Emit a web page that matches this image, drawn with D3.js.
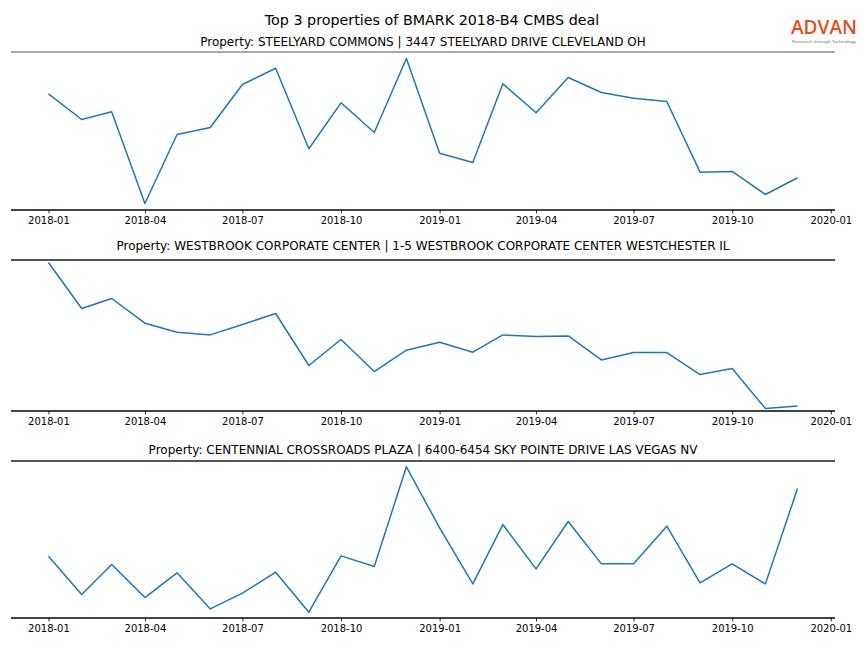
<!DOCTYPE html>
<html>
<head>
<meta charset="utf-8">
<script src="https://cdn.jsdelivr.net/npm/d3@7"></script>
<style>
  html, body { margin: 0; padding: 0; background: #fff; }
  svg { display: block; font-family: "DejaVu Sans", sans-serif; }
</style>
</head>
<body>
<svg id="chart" width="864" height="648"></svg>
<script>
// ---- data ----
const months = ["2018-01","2018-02","2018-03","2018-04","2018-05","2018-06","2018-07","2018-08","2018-09","2018-10","2018-11","2018-12",
                "2019-01","2019-02","2019-03","2019-04","2019-05","2019-06","2019-07","2019-08","2019-09","2019-10","2019-11","2019-12"];
const titles = [
  "Property: STEELYARD COMMONS | 3447 STEELYARD DRIVE CLEVELAND OH",
  "Property: WESTBROOK CORPORATE CENTER | 1-5 WESTBROOK CORPORATE CENTER WESTCHESTER IL",
  "Property: CENTENNIAL CROSSROADS PLAZA | 6400-6454 SKY POINTE DRIVE LAS VEGAS NV"
];
const steelyard = [1157, 900, 977, 60, 750, 820, 1250, 1413, 607, 1067, 770, 1510,
                   563, 470, 1257, 967, 1320, 1170, 1113, 1080, 373, 380, 150, 317];
const westbrook = [1487, 1027, 1127, 880, 790, 763, 867, 977, 457, 717, 397, 610,
                   690, 590, 763, 747, 753, 513, 587, 587, 367, 427, 27, 53];
const centennial = [617, 233, 533, 203, 450, 90, 247, 457, 57, 620, 513, 1510,
                    900, 340, 933, 490, 963, 540, 540, 917, 350, 540, 340, 1293];
const series = [steelyard, westbrook, centennial];
const mainTitle = "Top 3 properties of BMARK 2018-B4 CMBS deal";

// ---- layout ----
const svg = d3.select("#chart");
const left = 11, right = 835;
const panels = [
  {top: 52, bottom: 210, pad: 0.045, titleY: 46, topSpine: 1},
  {top: 260, bottom: 411, pad: 0.017, titleY: 250, topSpine: 2},
  {top: 461, bottom: 618, pad: 0.04, titleY: 454, topSpine: 2}
];
const parse = d3.timeParse("%Y-%m");
const dates = months.map(parse);
const dExt = d3.extent(dates);
const span = dExt[1] - dExt[0];
const x = d3.scaleTime()
  .domain([new Date(+dExt[0] - span * 0.05), new Date(+dExt[1] + span * 0.05)])
  .range([left, right]);

svg.append("text").attr("x", 432).attr("y", 25).attr("text-anchor", "middle")
  .attr("font-size", 14.3).attr("fill", "#000").text(mainTitle);

// logo
const logo = svg.append("g");
logo.append("text").attr("x", 791).attr("y", 34).attr("font-family", "Open Sans, Liberation Sans, sans-serif")
  .attr("font-size", 20).attr("font-weight", 600).attr("fill", "#e0511f").attr("textLength", 66).attr("lengthAdjust", "spacingAndGlyphs")
  .text("ADVAN");
logo.append("text").attr("x", 792).attr("y", 42.5).attr("font-family", "Liberation Sans, Arial, sans-serif")
  .attr("font-size", 3.6).attr("fill", "#777").attr("textLength", 64).attr("lengthAdjust", "spacingAndGlyphs")
  .text("Research through Technology");

panels.forEach((p, i) => {
  const vals = series[i];
  const ext = d3.extent(vals);
  const r = ext[1] - ext[0];
  const y = d3.scaleLinear().domain([ext[0] - r * p.pad, ext[1] + r * p.pad]).range([p.bottom, p.top]);
  const g = svg.append("g");

  g.append("text").attr("x", (left + right) / 2).attr("y", p.titleY).attr("text-anchor", "middle")
    .attr("font-size", 12).attr("fill", "#000").text(titles[i]);

  // top spine
  g.append("line").attr("x1", left).attr("x2", right).attr("y1", p.top).attr("y2", p.top)
    .attr("stroke", "#555").attr("stroke-width", p.topSpine);

  const line = d3.line().x((d, j) => x(dates[j])).y(d => y(d));
  g.append("path").datum(vals).attr("d", line).attr("fill", "none")
    .attr("stroke", "#1f77b4").attr("stroke-width", 1.5).attr("stroke-linejoin", "round");

  const axis = d3.axisBottom(x).ticks(d3.timeMonth.every(3)).tickFormat(d3.timeFormat("%Y-%m"))
    .tickSize(3.5).tickPadding(3.5);
  const ax = g.append("g").attr("transform", `translate(0,${p.bottom})`).call(axis);
  ax.select(".domain").attr("stroke", "#444").attr("stroke-width", 2).attr("d", `M${left},0H${right}`);
  ax.selectAll(".tick line").attr("stroke", "#000").attr("stroke-width", 0.8);
  ax.selectAll(".tick text").attr("font-size", 10).attr("fill", "#000").attr("font-family", "DejaVu Sans, sans-serif");
});
</script>
</body>
</html>
